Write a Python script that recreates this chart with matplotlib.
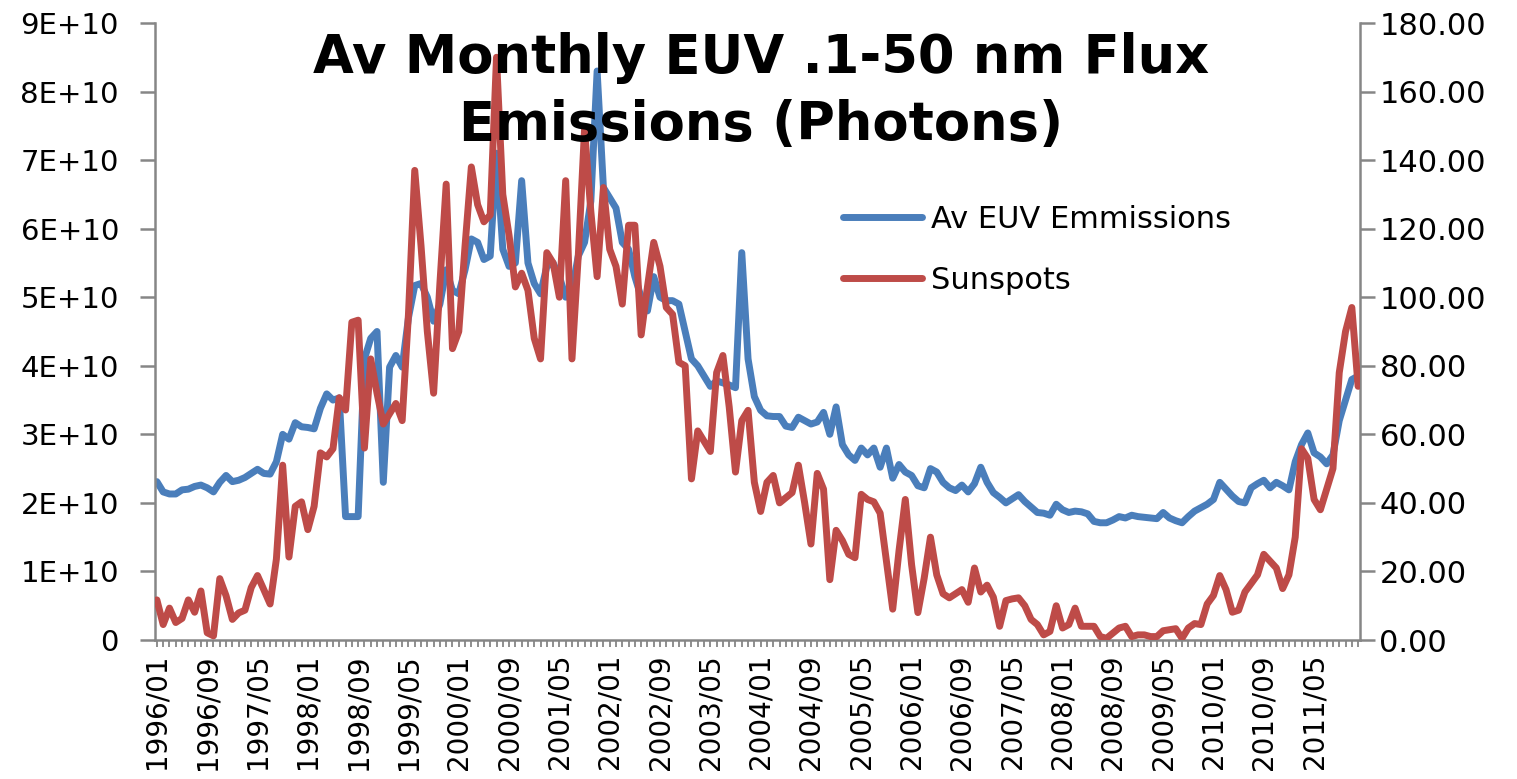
import matplotlib
matplotlib.use('Agg')
import matplotlib.pyplot as plt
import numpy as np
import pandas as pd
from matplotlib.ticker import FuncFormatter

# Categories: monthly, 1996/01 .. 2011/12
months = pd.date_range('1996-01-01', periods=192, freq='MS').strftime('%Y/%m').tolist()

# Av EUV emissions (units of 1E+10 photons)
euv_e10 = [
    2.31, 2.16, 2.13, 2.13, 2.19, 2.20, 2.24, 2.26, 2.22, 2.16,
    2.30, 2.40, 2.31, 2.33, 2.37, 2.43, 2.49, 2.43, 2.42, 2.60,
    3.00, 2.93, 3.17, 3.11, 3.10, 3.08, 3.38, 3.59, 3.50, 3.53,
    1.80, 1.80, 1.80, 4.10, 4.40, 4.50, 2.30, 3.98, 4.15, 3.98,
    4.70, 5.17, 5.20, 5.00, 4.65, 4.90, 5.40, 5.10, 5.05, 5.40,
    5.85, 5.80, 5.55, 5.60, 7.10, 5.70, 5.45, 5.50, 6.70, 5.50,
    5.20, 5.05, 5.45, 5.50, 5.30, 5.00, 5.10, 5.60, 5.80, 6.40,
    8.30, 6.60, 6.45, 6.30, 5.80, 5.70, 5.30, 5.00, 4.80, 5.30,
    5.00, 4.95, 4.95, 4.90, 4.50, 4.10, 4.00, 3.85, 3.70, 3.78,
    3.75, 3.72, 3.68, 5.65, 4.10, 3.55, 3.35, 3.27, 3.26, 3.26,
    3.12, 3.10, 3.25, 3.20, 3.15, 3.18, 3.32, 3.00, 3.40, 2.85,
    2.70, 2.62, 2.80, 2.70, 2.80, 2.52, 2.80, 2.36, 2.56, 2.45,
    2.40, 2.25, 2.22, 2.50, 2.45, 2.30, 2.22, 2.18, 2.26, 2.16,
    2.28, 2.52, 2.30, 2.15, 2.08, 2.00, 2.06, 2.12, 2.02, 1.94,
    1.86, 1.85, 1.82, 1.98, 1.90, 1.86, 1.88, 1.87, 1.84, 1.73,
    1.71, 1.71, 1.75, 1.80, 1.78, 1.82, 1.80, 1.79, 1.78, 1.77,
    1.86, 1.78, 1.74, 1.71, 1.80, 1.88, 1.93, 1.98, 2.05, 2.30,
    2.20, 2.10, 2.02, 2.00, 2.22, 2.28, 2.33, 2.22, 2.30, 2.25,
    2.19, 2.60, 2.85, 3.02, 2.73, 2.67, 2.57, 2.70, 3.20, 3.50,
    3.80, 3.85,
]

# Monthly sunspot numbers
sunspots = [
    11.7, 4.5, 9.3, 5.1, 6.3, 11.7, 8.1, 14.3, 2.1, 1.2,
    17.9, 12.9, 6.0, 7.9, 8.7, 15.3, 18.8, 14.7, 10.5, 23.6,
    51.0, 24.2, 39.0, 40.3, 32.2, 39.0, 54.6, 53.4, 55.8, 70.7,
    67.1, 92.7, 93.3, 56.0, 82.0, 72.0, 63.0, 66.0, 69.0, 64.0,
    95.0, 137.0, 115.0, 90.0, 72.0, 104.0, 133.0, 85.0, 90.0, 115.0,
    138.0, 127.0, 122.0, 124.0, 170.0, 130.0, 118.0, 103.0, 107.0, 102.0,
    88.0, 82.0, 113.0, 110.0, 100.0, 134.0, 82.0, 112.0, 149.0, 125.0,
    106.0, 132.0, 114.0, 109.0, 98.0, 121.0, 121.0, 89.0, 103.0, 116.0,
    109.0, 97.0, 95.0, 81.0, 80.0, 47.0, 61.0, 58.0, 55.0, 78.0,
    83.0, 68.0, 49.0, 64.0, 67.0, 46.0, 37.5, 46.0, 48.0, 40.0,
    41.5, 43.0, 51.0, 40.0, 28.0, 48.6, 44.0, 17.6, 32.0, 29.0,
    25.0, 24.0, 42.5, 41.0, 40.3, 37.0, 23.0, 9.0, 26.0, 41.0,
    22.0, 8.0, 18.0, 30.0, 19.0, 13.5, 12.3, 13.5, 14.7, 11.0,
    21.0, 14.0, 16.0, 12.5, 4.0, 11.5, 12.0, 12.3, 10.0, 6.0,
    4.5, 1.5, 2.5, 10.0, 3.5, 4.5, 9.3, 4.0, 4.0, 4.0,
    1.0, 0.5, 2.0, 3.5, 4.0, 1.0, 1.5, 1.5, 1.0, 1.0,
    2.7, 3.0, 3.3, 0.5, 3.5, 4.8, 4.5, 10.5, 13.0, 18.8,
    14.7, 8.1, 8.7, 14.0, 16.5, 19.0, 25.0, 23.0, 21.0, 15.0,
    19.0, 30.0, 55.8, 53.0, 41.0, 38.0, 44.0, 50.0, 78.0, 90.0,
    97.0, 74.0,
]

euv = [v * 1e10 for v in euv_e10]

title = 'Av Monthly EUV .1-50 nm Flux\nEmissions (Photons)'
series_labels = ['Av EUV Emmissions', 'Sunspots']
blue = '#4A7EBB'
red = '#BE4B48'
axis_gray = '#868686'

plt.rcParams['font.family'] = ['DejaVu Sans']

fig = plt.figure(figsize=(15.17, 7.79), dpi=100)
ax = fig.add_axes([155 / 1517, 1 - 640 / 779, (1360 - 155) / 1517, (640 - 23) / 779])
ax2 = ax.twinx()

x = np.arange(len(months))
l1, = ax.plot(x, euv, color=blue, lw=5.0, solid_joinstyle='round',
              solid_capstyle='round', label=series_labels[0], zorder=2)
l2, = ax2.plot(x, sunspots, color=red, lw=5.0, solid_joinstyle='round',
               solid_capstyle='round', label=series_labels[1], zorder=3)

ax.set_xlim(-0.3, len(months) - 1 + 0.3)
ax.set_ylim(0, 9e10)
ax2.set_ylim(0, 180)

ax.set_yticks(np.arange(0, 9.01e10, 1e10))
ax.yaxis.set_major_formatter(FuncFormatter(
    lambda v, p: '0' if v == 0 else f'{int(round(v / 1e10))}E+10'))
ax2.set_yticks(np.arange(0, 181, 20))
ax2.yaxis.set_major_formatter(FuncFormatter(lambda v, p: f'{v:.2f}'))

ax.set_xticks(x[::8])
ax.set_xticklabels(months[::8], rotation=90)
ax.set_xticks(x, minor=True)

for a in (ax, ax2):
    a.spines['top'].set_visible(False)
    for s in a.spines.values():
        s.set_color(axis_gray)
        s.set_linewidth(1.8)
ax.spines['right'].set_visible(False)
ax2.spines['left'].set_visible(False)
ax2.spines['bottom'].set_visible(False)

ax.tick_params(axis='y', which='major', length=11, width=1.8, color=axis_gray,
               labelsize=21, pad=15, direction='out')
ax2.tick_params(axis='y', which='major', length=11, width=1.8, color=axis_gray,
                labelsize=22, pad=3, direction='out')
ax.tick_params(axis='x', which='both', length=5, width=1.3, color=axis_gray,
               labelsize=20, pad=5, direction='out')

# title: va='baseline' aligns the last line's baseline
fig.text(0.5017, 1 - 140 / 779, title, ha='center', va='baseline',
         fontsize=38, fontweight='bold', linespacing=1.37, zorder=5)

fig.legend(handles=[l1, l2], loc='upper left',
           bbox_to_anchor=(843 / 1517, 1 - 205 / 779), frameon=False,
           fontsize=22, handlelength=2.6, handletextpad=0.28,
           labelspacing=1.05, borderpad=0, borderaxespad=0)

fig.savefig('out.png', dpi=100)
